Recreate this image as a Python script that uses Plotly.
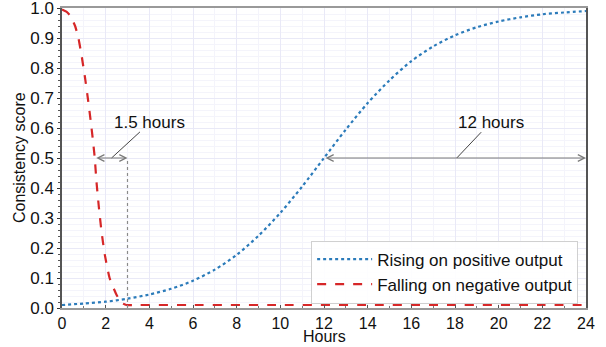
import plotly.graph_objects as go

# ---- data ----
rise_hours = list(range(0, 25))
rise_score = [0.010, 0.015, 0.021, 0.031, 0.045, 0.064, 0.091, 0.128, 0.177, 0.241,
              0.317, 0.405, 0.500, 0.595, 0.683, 0.759, 0.823, 0.872, 0.909, 0.936,
              0.955, 0.969, 0.979, 0.985, 0.990]

fall_hours = [0, 0.2, 0.37, 0.6, 0.75, 0.9, 1.05, 1.2, 1.32, 1.43, 1.5, 1.58, 1.69, 1.81,
              1.96, 2.18, 2.49, 2.72, 2.95, 3.5, 6, 10, 14, 18, 22, 24]
fall_score = [0.995, 0.988, 0.975, 0.94, 0.90, 0.84, 0.77, 0.69, 0.62, 0.55, 0.50, 0.42,
              0.335, 0.255, 0.178, 0.10, 0.045, 0.018, 0.010, 0.010, 0.010, 0.010,
              0.010, 0.010, 0.010, 0.010]

fall_half, fall_end = 1.5, 3.0      # "1.5 hours"
rise_half, rise_end = 12.0, 24.0    # "12 hours"
half_level = 0.5
fall_label = "1.5 hours"
rise_label = "12 hours"
x_ticks = list(range(0, 25, 2))
y_ticks = [round(v * 0.1, 1) for v in range(0, 11)]

FONT = "Liberation Sans, Arial, sans-serif"
GRAY = "#7a7a7a"

fig = go.Figure()
fig.add_trace(go.Scatter(x=rise_hours, y=rise_score, mode="lines",
                         line_shape="spline", line_smoothing=0.8,
                         name="Rising on positive output",
                         line=dict(color="#2b7bba", width=2.2, dash="dot")))
fig.add_trace(go.Scatter(x=fall_hours, y=fall_score, mode="lines",
                         line_shape="spline", line_smoothing=0.5,
                         name="Falling on negative output",
                         line=dict(color="#d62728", width=2.2, dash="dash")))

# vertical dotted marker at fall_end
fig.add_shape(type="line", x0=fall_end, x1=fall_end, y0=0, y1=half_level,
              line=dict(color="#8a8a8a", width=1.2, dash="dot"))

# double-headed arrows
for a, b in [(fall_half, fall_end), (rise_half, rise_end)]:
    fig.add_annotation(x=b, y=half_level, ax=a, ay=half_level, axref="x", ayref="y",
                       xref="x", yref="y", text="", showarrow=True,
                       arrowside="end+start", arrowhead=5, arrowsize=1.1,
                       arrowwidth=1.2, arrowcolor=GRAY)

# leader lines + labels
fig.add_shape(type="line", x0=2.27, y0=half_level, x1=3.57, y1=0.587,
              line=dict(color="#444444", width=1))
fig.add_shape(type="line", x0=18.08, y0=half_level, x1=19.2, y1=0.586,
              line=dict(color="#444444", width=1))
fig.add_annotation(x=4.03, y=0.617, text=fall_label, showarrow=False,
                   font=dict(family=FONT, size=17, color="#111111"))
fig.add_annotation(x=19.67, y=0.617, text=rise_label, showarrow=False,
                   font=dict(family=FONT, size=17, color="#111111"))

# axis titles as annotations (fixed positions)
fig.add_annotation(xref="paper", yref="paper", x=0.5, y=-0.127, yanchor="bottom",
                   text="Hours", showarrow=False, borderpad=0,
                   font=dict(family=FONT, size=16, color="#111111"))
fig.add_annotation(xref="paper", yref="paper", x=-0.082, xanchor="center",
                   y=0.5, text="Consistency score", textangle=-90, showarrow=False,
                   font=dict(family=FONT, size=16, color="#111111"))

fig.update_layout(
    width=606, height=347,
    margin=dict(l=62, r=20, t=8, b=39, autoexpand=False),
    paper_bgcolor="white", plot_bgcolor="white",
    font=dict(family=FONT, color="#111111"),
    showlegend=True,
    legend=dict(x=0.985, y=0.015, xanchor="right", yanchor="bottom",
                bgcolor="rgba(255,255,255,0.9)", bordercolor="#d0d0d0", borderwidth=1,
                font=dict(family=FONT, size=17), tracegroupgap=0, itemwidth=55),
)
fig.update_xaxes(range=[0, 24], tickvals=x_ticks, ticks="inside", ticklen=3,
                 tickcolor="#555555", automargin=False, ticklabeloverflow="allow",
                 tickfont=dict(family=FONT, size=16),
                 showgrid=True, gridcolor="#e9e9f7", gridwidth=1,
                 minor=dict(dtick=1, showgrid=True, gridcolor="#f4f4fb",
                            ticks="inside", ticklen=2, tickcolor="#777777"),
                 showline=True, linecolor="#999999", linewidth=1.5, mirror=True,
                 zeroline=False)
fig.update_yaxes(range=[0, 1], tickvals=y_ticks, tickformat=".1f", ticks="outside",
                 ticklen=3, tickcolor="#333333", automargin=False,
                 ticklabeloverflow="allow",
                 tickfont=dict(family=FONT, size=17),
                 showgrid=True, gridcolor="#e9e9f7", gridwidth=1,
                 minor=dict(dtick=0.02, showgrid=True, gridcolor="#f4f4fb",
                            ticks="outside", ticklen=2, tickcolor="#555555"),
                 showline=True, linecolor="#555555", linewidth=1.5, mirror=True,
                 zeroline=False)

fig.write_html("out.html", config={"displayModeBar": False},
               post_script="document.body.style.margin='0';document.body.style.overflow='hidden';")
